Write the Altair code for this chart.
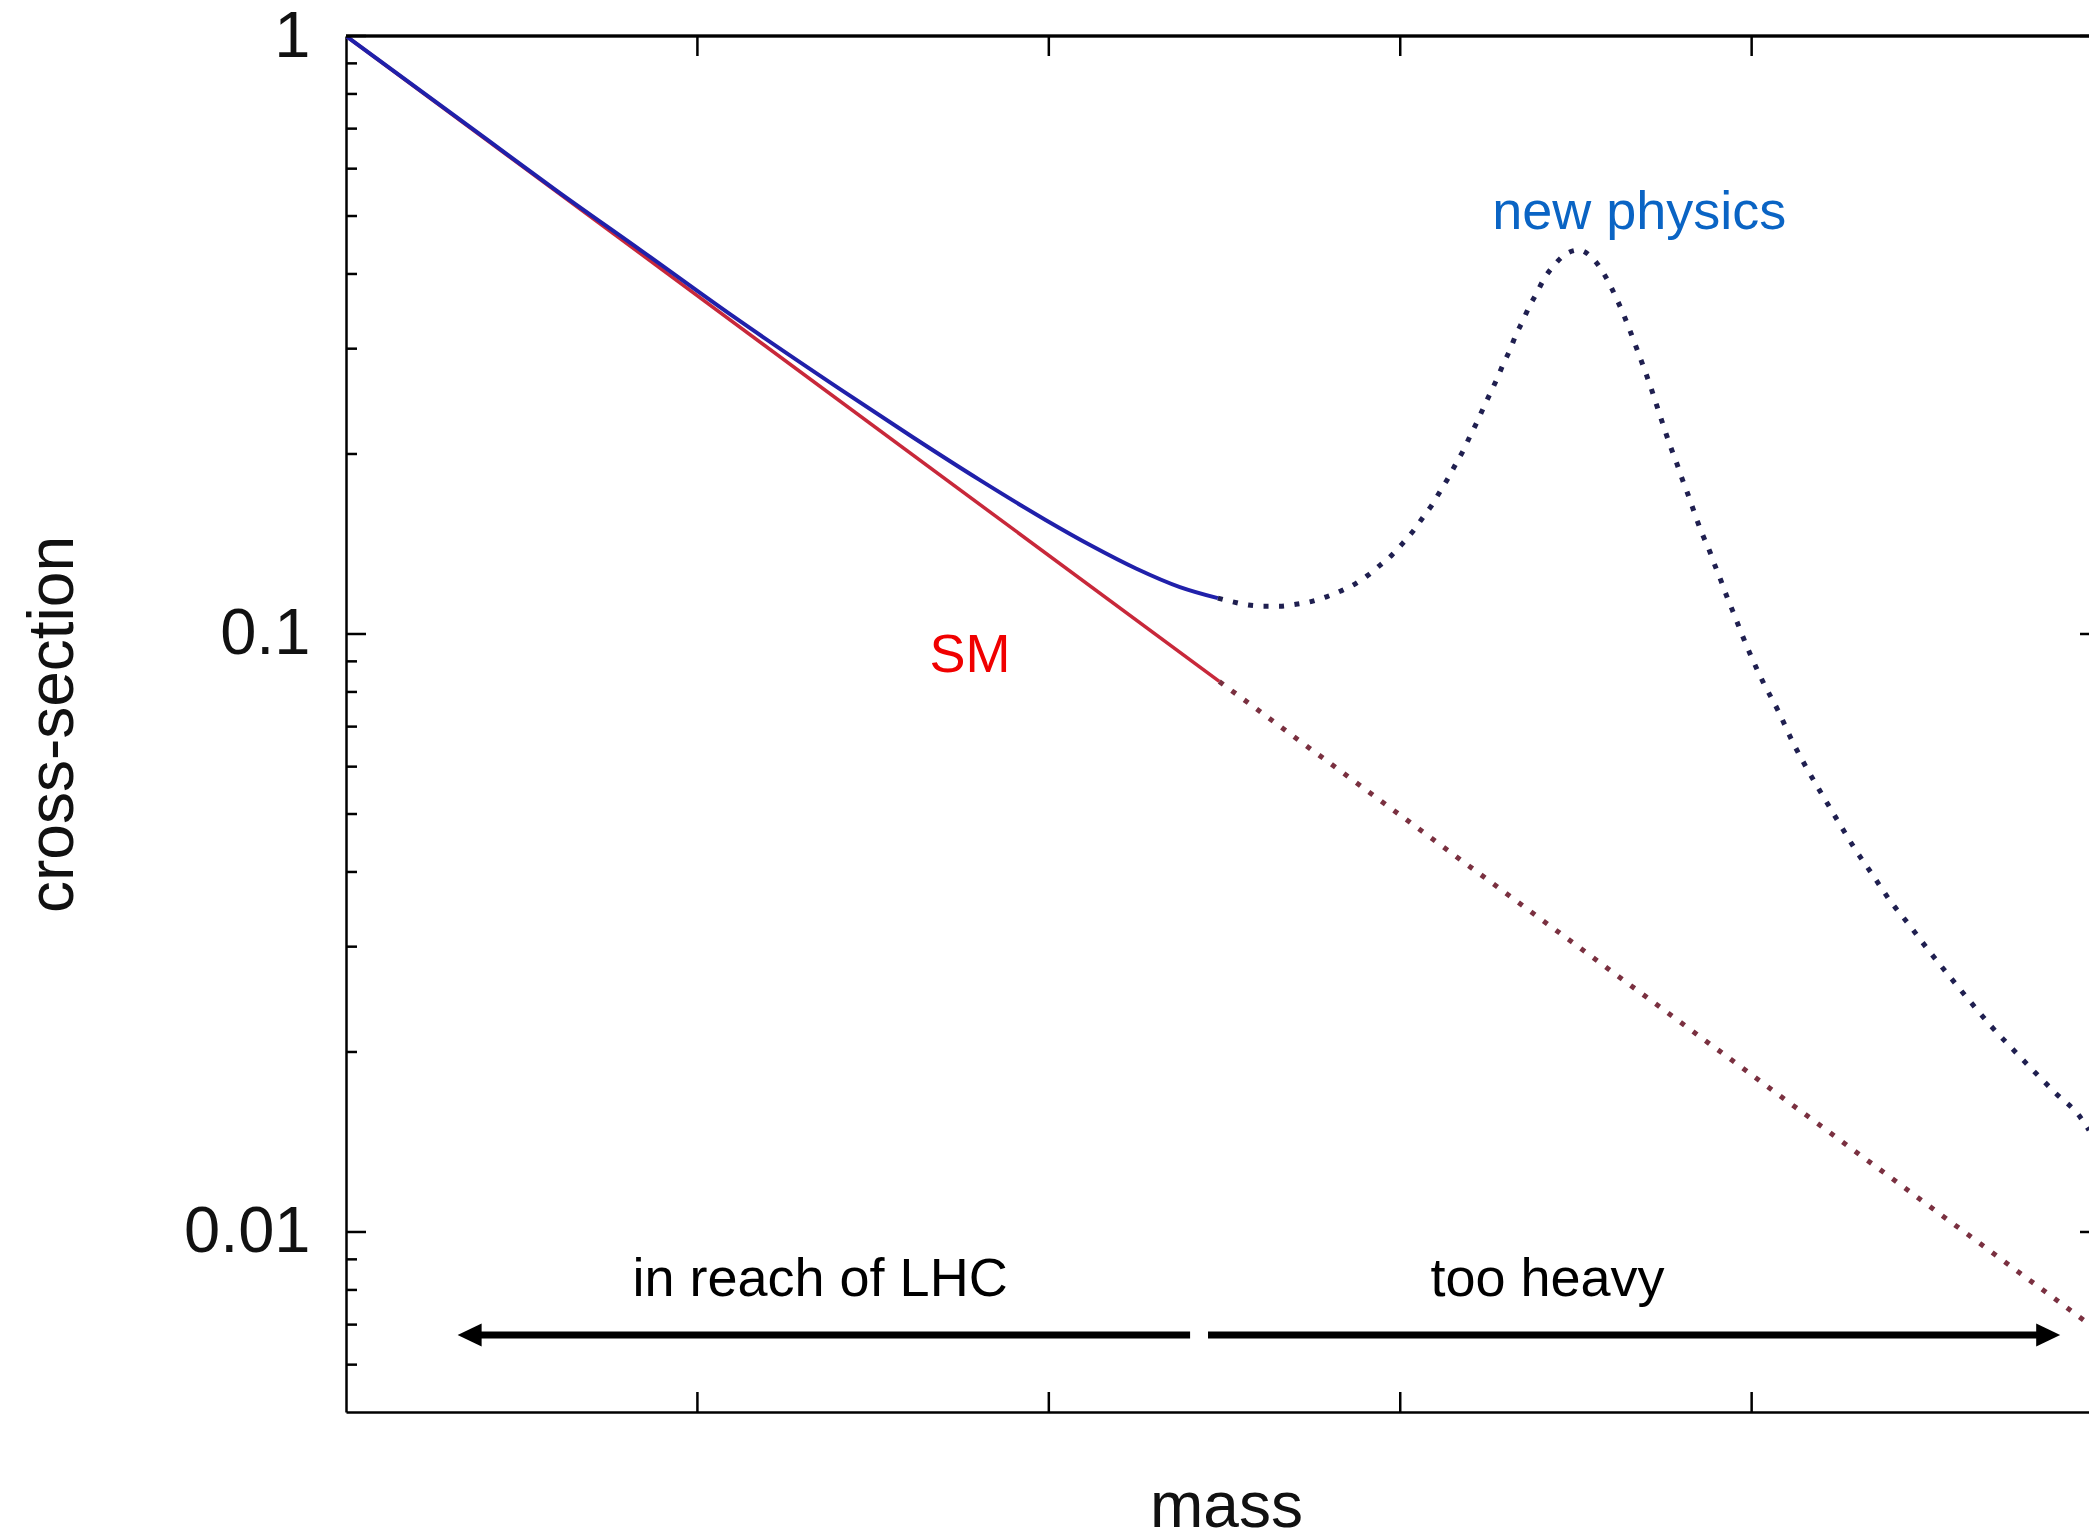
import altair as alt
import pandas as pd

# ---------------- data ----------------
# Standard-model curve (straight on the log axis)
sm_solid = [(0.0, 1.0), (2.485, 0.0833)]
sm_dotted = [(2.485, 0.0833), (5.0, 0.00674)]

# "new physics" curve, solid part
np_solid = [(0.0, 1.0), (0.40, 0.672), (0.60, 0.551), (0.837, 0.439), (1.104, 0.339),
            (1.409, 0.256), (1.612, 0.2135), (1.803, 0.181), (1.992, 0.155), (2.120, 0.1406),
            (2.248, 0.1287), (2.373, 0.1198), (2.481, 0.1148)]

# "new physics" curve, dotted part
np_dotted = [(2.481, 0.1148), (2.520, 0.1133), (2.568, 0.1118), (2.613, 0.1113), (2.658, 0.1113),
             (2.703, 0.1121), (2.746, 0.1133), (2.790, 0.1154), (2.831, 0.1180), (2.871, 0.1212),
             (2.909, 0.1255), (2.943, 0.1304), (2.976, 0.1355), (3.007, 0.1418), (3.037, 0.1487),
             (3.063, 0.1562), (3.090, 0.1643), (3.113, 0.1730), (3.137, 0.1826), (3.158, 0.1924),
             (3.180, 0.2031), (3.198, 0.2138), (3.218, 0.2259), (3.236, 0.2384), (3.256, 0.2526),
             (3.275, 0.2669), (3.293, 0.2825), (3.312, 0.2985), (3.329, 0.3162), (3.349, 0.3342),
             (3.367, 0.3526), (3.388, 0.3713), (3.409, 0.3924), (3.436, 0.4124), (3.467, 0.4302),
             (3.507, 0.4386), (3.545, 0.4264), (3.573, 0.4062), (3.597, 0.3835), (3.616, 0.3633),
             (3.635, 0.3428), (3.652, 0.3236), (3.668, 0.3055), (3.684, 0.2884), (3.699, 0.2729),
             (3.714, 0.2575), (3.728, 0.2430), (3.742, 0.2294), (3.756, 0.2166), (3.771, 0.2044),
             (3.787, 0.1929), (3.801, 0.1826), (3.817, 0.1723), (3.832, 0.1627), (3.846, 0.1541),
             (3.862, 0.1458), (3.880, 0.1378), (3.896, 0.1300), (3.913, 0.1227), (3.929, 0.1157),
             (3.946, 0.1093), (3.962, 0.1035), (3.978, 0.0980), (3.995, 0.0928), (4.033, 0.0830),
             (4.076, 0.0743), (4.114, 0.0665), (4.157, 0.0596), (4.202, 0.0537), (4.247, 0.0485),
             (4.294, 0.0437), (4.345, 0.0395), (4.394, 0.0358), (4.449, 0.0326), (4.503, 0.0296),
             (4.560, 0.0269), (4.619, 0.0244), (4.678, 0.0222), (4.740, 0.0203), (4.802, 0.0186),
             (4.868, 0.0170), (4.930, 0.0157), (4.960, 0.0148)]

# axis ticks
x_ticks = [1, 2, 3, 4]
y_major = [1, 0.1, 0.01]
y_minor = [0.9, 0.8, 0.7, 0.6, 0.5, 0.4, 0.3, 0.2,
           0.09, 0.08, 0.07, 0.06, 0.05, 0.04, 0.03, 0.02,
           0.009, 0.008, 0.007, 0.006]

# annotation labels (position in data units)
labels_text = ["new physics", "SM", "in reach of LHC", "too heavy"]
labels_mass = [3.680, 1.776, 1.349, 3.419]
labels_xs = [0.4757, 0.0865, 0.00782, 0.00782]
labels_color = ["#0a64c4", "#f00000", "#000000", "#000000"]

# arrows
arrow_y = 0.006726
arrow_shafts = [(0.378, 2.402), (2.453, 4.818)]
arrow_tips_left = [0.3176]
arrow_tips_right = [4.878]

# ---------------- chart ----------------
W, H = 1743, 1376
FONT = "Liberation Sans"

xscale = alt.Scale(domain=[0, 4.96], nice=False, zero=False)
yscale = alt.Scale(type="log", domain=[0.005, 1], nice=False)

X_AX = alt.Axis(title="mass", labels=False, ticks=False, grid=False, domain=True,
                domainColor="black", domainWidth=2.5, titleFont=FONT, titleFontSize=64,
                titleFontWeight="normal", titleColor="#111111", titleX=880, titleY=95,
                titleAlign="center", titleBaseline="middle")
Y_AX = alt.Axis(title="cross-section", values=y_major, format="~g", ticks=False, grid=False,
                domain=True, domainColor="black", domainWidth=2.5, labelFont=FONT,
                labelFontSize=65, labelColor="#111111", labelPadding=36, labelAlign="right",
                labelBaseline="middle", labelFlush=False, labelOverlap=False,
                titleFont=FONT, titleFontSize=64, titleFontWeight="normal", titleColor="#111111",
                titleAngle=270, titleX=-293, titleY=688, titleAlign="center",
                titleBaseline="middle")


def X(field="mass"):
    return alt.X(f"{field}:Q", scale=xscale, axis=X_AX)


def Y(field="xs"):
    return alt.Y(f"{field}:Q", scale=yscale, axis=Y_AX)


def df_pairs(pairs):
    return pd.DataFrame(pairs, columns=["mass", "xs"])


sm_solid_l = alt.Chart(df_pairs(sm_solid)).mark_line(
    color="#c8283a", strokeWidth=3.5, clip=True).encode(x=X(), y=Y())
sm_dot_l = alt.Chart(df_pairs(sm_dotted)).mark_line(
    color="#7a3040", strokeWidth=5, strokeDash=[5, 10.5], strokeCap="butt", clip=True
).encode(x=X(), y=Y())
np_solid_l = alt.Chart(df_pairs(np_solid)).mark_line(
    color="#2020aa", strokeWidth=4, clip=True, interpolate="monotone").encode(x=X(), y=Y())
np_dot_l = alt.Chart(df_pairs(np_dotted)).mark_line(
    color="#1f1f50", strokeWidth=5, strokeDash=[5, 10.5], strokeCap="butt", clip=True,
    interpolate="monotone").encode(x=X(), y=Y())

xt_df = pd.DataFrame({"mass": x_ticks})
ymaj_df = pd.DataFrame({"xs": y_major})
ymin_df = pd.DataFrame({"xs": y_minor})

tick_kw = dict(color="black", strokeWidth=2.5)
top_ticks = alt.Chart(xt_df).mark_rule(**tick_kw).encode(
    x=X(), y=alt.value(0), y2=alt.value(20))
bot_ticks = alt.Chart(xt_df).mark_rule(**tick_kw).encode(
    x=X(), y=alt.value(H - 20), y2=alt.value(H))
left_major = alt.Chart(ymaj_df).mark_rule(**tick_kw).encode(
    y=Y(), x=alt.value(0), x2=alt.value(20))
left_minor = alt.Chart(ymin_df).mark_rule(**tick_kw).encode(
    y=Y(), x=alt.value(0), x2=alt.value(11))
right_major = alt.Chart(ymaj_df).mark_rule(**tick_kw).encode(
    y=Y(), x=alt.value(W - 9), x2=alt.value(W))
top_line = alt.Chart(xt_df).mark_rule(color="black", strokeWidth=2.5).encode(
    x=alt.value(0), x2=alt.value(W), y=alt.value(0))

lab_df = pd.DataFrame({"label": labels_text, "mass": labels_mass, "xs": labels_xs,
                       "col": labels_color})
labels = alt.Chart(lab_df).mark_text(
    font=FONT, fontSize=54, align="center", baseline="alphabetic").encode(
    x=X(), y=Y(), text="label:N", color=alt.Color("col:N", scale=None))

shaft_df = pd.DataFrame({"mass": [a for a, b in arrow_shafts],
                         "mass2": [b for a, b in arrow_shafts],
                         "xs": [arrow_y] * len(arrow_shafts)})
shafts = alt.Chart(shaft_df).mark_rule(color="black", strokeWidth=7).encode(
    x=X(), x2="mass2:Q", y=Y())
lt_df = pd.DataFrame({"mass": arrow_tips_left, "xs": [arrow_y] * len(arrow_tips_left)})
rt_df = pd.DataFrame({"mass": arrow_tips_right, "xs": [arrow_y] * len(arrow_tips_right)})
head_left = alt.Chart(lt_df).mark_point(
    shape="M0,0L2,-0.96L2,0.96Z", filled=True, size=576, color="black", opacity=1,
    strokeWidth=0).encode(x=X(), y=Y())
head_right = alt.Chart(rt_df).mark_point(
    shape="M0,0L-2,-0.96L-2,0.96Z", filled=True, size=576, color="black", opacity=1,
    strokeWidth=0).encode(x=X(), y=Y())

chart = alt.layer(
    sm_solid_l, sm_dot_l, np_dot_l, np_solid_l,
    top_line, top_ticks, bot_ticks, left_major, left_minor, right_major,
    shafts, head_left, head_right, labels,
).properties(
    width=W, height=H,
    padding={"left": 346, "top": 36, "right": 0, "bottom": 126},
    autosize=alt.AutoSizeParams(type="none"),
    background="white",
).configure_view(stroke=None)

chart.save("out.html", embed_options={"renderer": "svg", "actions": False})
